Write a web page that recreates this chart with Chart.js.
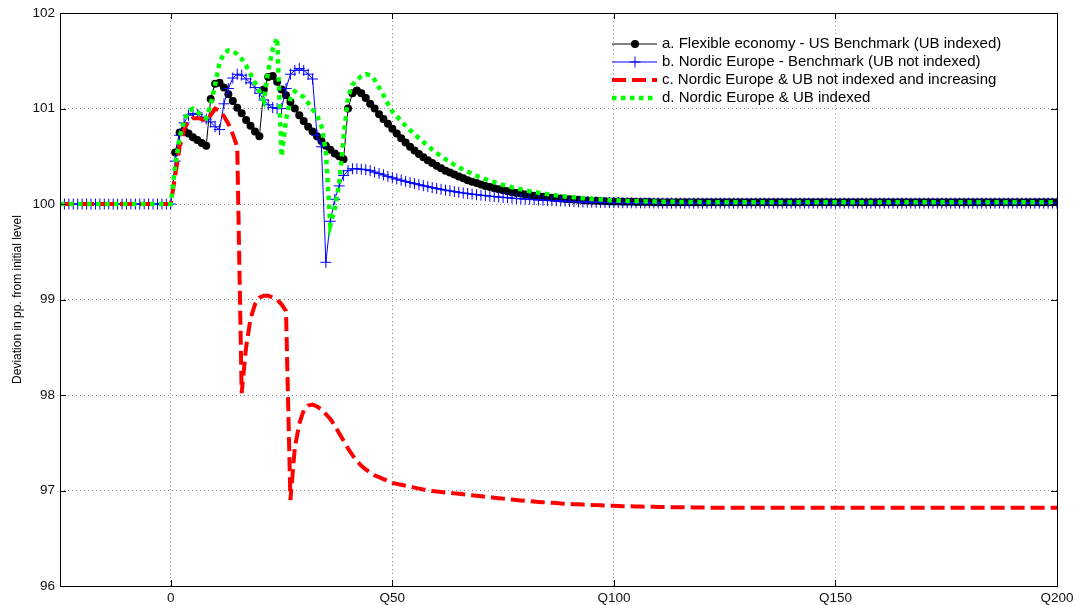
<!DOCTYPE html>
<html><head><meta charset="utf-8">
<script src="https://cdn.jsdelivr.net/npm/chart.js@4.4.0/dist/chart.umd.min.js"></script>
<style>html,body{margin:0;padding:0;background:#fff;}canvas{display:block;}</style>
</head><body>
<canvas id="c" width="1080" height="605"></canvas>
<script>
// quarters -25 .. 200
const quarters = [];
for (let q = -25; q <= 200; q++) quarters.push(q);

const xTickValues = [0, 50, 100, 150, 200];
const yTickValues = [96, 97, 98, 99, 100, 101, 102];

const seriesNames = [
  'a. Flexible economy - US Benchmark (UB indexed)',
  'b. Nordic Europe - Benchmark (UB not indexed)',
  'c. Nordic Europe & UB not indexed and increasing',
  'd. Nordic Europe & UB indexed'
];

const flexibleUS = [
  null,null,null,null,null,null,null,null,null,null,
  null,null,null,null,null,null,null,null,null,null,
  null,null,null,null,null,null,
  100.54,100.75,100.77,100.74,100.70,100.67,100.64,100.61,101.10,101.26,
  101.27,101.22,101.15,101.08,101.01,100.95,100.88,100.82,100.76,100.71,
  101.20,101.33,101.34,101.28,101.20,101.14,101.07,101.00,100.93,100.87,
  100.81,100.76,100.71,100.66,100.61,100.57,100.53,100.50,100.47,101.00,
  101.16,101.19,101.16,101.11,101.05,101.00,100.94,100.89,100.84,100.79,
  100.74,100.69,100.645,100.60,100.56,100.525,100.49,100.46,100.43,100.40,
  100.375,100.35,100.33,100.31,100.29,100.27,100.25,100.235,100.22,100.205,
  100.19,100.18,100.165,100.155,100.145,100.135,100.125,100.117,100.11,100.10,
  100.094,100.088,100.082,100.076,100.071,100.066,100.062,100.058,100.054,100.05,
  100.047,100.044,100.041,100.038,100.036,100.034,100.032,100.03,100.028,100.027,
  100.026,100.025,100.024,100.023,100.022,100.022,100.021,100.021,100.02,100.02,
  100.02,100.02,100.02,100.02,100.02,100.02,100.02,100.02,100.02,100.02,
  100.02,100.02,100.02,100.02,100.02,100.02,100.02,100.02,100.02,100.02,
  100.02,100.02,100.02,100.02,100.02,100.02,100.02,100.02,100.02,100.02,
  100.02,100.02,100.02,100.02,100.02,100.02,100.02,100.02,100.02,100.02,
  100.02,100.02,100.02,100.02,100.02,100.02,100.02,100.02,100.02,100.02,
  100.02,100.02,100.02,100.02,100.02,100.02,100.02,100.02,100.02,100.02,
  100.02,100.02,100.02,100.02,100.02,100.02,100.02,100.02,100.02,100.02,
  100.02,100.02,100.02,100.02,100.02,100.02,100.02,100.02,100.02,100.02,
  100.02,100.02,100.02,100.02,100.02,100.02,100.02,100.02,100.02,100.02
];

const nordicBenchmark = [
  100,100,100,100,100,100,100,100,100,100,
  100,100,100,100,100,100,100,100,100,100,
  100,100,100,100,100,100,
  100.45,100.72,100.85,100.93,100.95,100.94,100.91,100.89,100.86,100.81,
  100.78,101.05,101.21,101.32,101.36,101.35,101.31,101.27,101.22,101.16,
  101.09,101.04,101.01,101.00,101.00,101.21,101.36,101.40,101.42,101.40,
  101.36,101.31,100.72,100.60,99.39,99.82,100.05,100.19,100.30,100.35,
  100.37,100.37,100.365,100.36,100.35,100.335,100.32,100.305,100.29,100.275,
  100.262,100.25,100.238,100.226,100.214,100.203,100.192,100.182,100.172,100.163,
  100.154,100.146,100.138,100.13,100.123,100.116,100.11,100.104,100.098,100.093,
  100.088,100.083,100.078,100.074,100.07,100.066,100.062,100.058,100.055,100.052,
  100.049,100.046,100.043,100.04,100.038,100.036,100.034,100.032,100.03,100.028,
  100.026,100.024,100.022,100.021,100.02,100.019,100.018,100.017,100.016,100.015,
  100.015,100.014,100.014,100.013,100.013,100.012,100.012,100.012,100.011,100.011,
  100.01,100.01,100.01,100.01,100.01,100.01,100.01,100.01,100.01,100.01,
  100.01,100.01,100.01,100.01,100.01,100.01,100.01,100.01,100.01,100.01,
  100.01,100.01,100.01,100.01,100.01,100.01,100.01,100.01,100.01,100.01,
  100.01,100.01,100.01,100.01,100.01,100.01,100.01,100.01,100.01,100.01,
  100.01,100.01,100.01,100.01,100.01,100.01,100.01,100.01,100.01,100.01,
  100.01,100.01,100.01,100.01,100.01,100.01,100.01,100.01,100.01,100.01,
  100.01,100.01,100.01,100.01,100.01,100.01,100.01,100.01,100.01,100.01,
  100.01,100.01,100.01,100.01,100.01,100.01,100.01,100.01,100.01,100.01,
  100.01,100.01,100.01,100.01,100.01,100.01,100.01,100.01,100.01,100.01
];

const nordicNotIndexedIncreasing = [
  100,100,100,100,100,100,100,100,100,100,
  100,100,100,100,100,100,100,100,100,100,
  100,100,100,100,100,100,
  100.3,100.6,100.78,100.87,100.9,100.9,100.89,100.87,100.93,101.0,
  100.98,100.92,100.84,100.73,100.6,98.02,98.5,98.8,98.95,99.02,
  99.04,99.04,99.02,99.0,98.95,98.88,96.9,97.45,97.7,97.84,
  97.89,97.9,97.88,97.85,97.8,97.75,97.68,97.6,97.52,97.44,
  97.37,97.31,97.26,97.22,97.19,97.16,97.14,97.12,97.1,97.08,
  97.07,97.06,97.05,97.04,97.03,97.02,97.01,97.0,96.995,96.99,
  96.985,96.98,96.975,96.97,96.965,96.96,96.955,96.95,96.945,96.94,
  96.935,96.93,96.925,96.92,96.915,96.91,96.905,96.9,96.896,96.892,
  96.888,96.884,96.88,96.877,96.874,96.871,96.868,96.865,96.862,96.86,
  96.857,96.855,96.853,96.851,96.849,96.847,96.845,96.843,96.841,96.84,
  96.838,96.836,96.835,96.834,96.833,96.832,96.831,96.83,96.829,96.828,
  96.827,96.826,96.826,96.825,96.825,96.824,96.824,96.823,96.823,96.822,
  96.82,96.82,96.82,96.82,96.82,96.82,96.82,96.82,96.82,96.82,
  96.82,96.82,96.82,96.82,96.82,96.82,96.82,96.82,96.82,96.82,
  96.82,96.82,96.82,96.82,96.82,96.82,96.82,96.82,96.82,96.82,
  96.82,96.82,96.82,96.82,96.82,96.82,96.82,96.82,96.82,96.82,
  96.82,96.82,96.82,96.82,96.82,96.82,96.82,96.82,96.82,96.82,
  96.82,96.82,96.82,96.82,96.82,96.82,96.82,96.82,96.82,96.82,
  96.82,96.82,96.82,96.82,96.82,96.82,96.82,96.82,96.82,96.82,
  96.82,96.82,96.82,96.82,96.82,96.82,96.82,96.82,96.82,96.82
];

const nordicIndexed = [
  100,100,100,100,100,100,100,100,100,100,
  100,100,100,100,100,100,100,100,100,100,
  100,100,100,100,100,100,
  100.4,100.7,100.87,100.97,101.0,100.97,100.92,100.9,101.04,101.25,
  101.48,101.58,101.61,101.6,101.57,101.52,101.45,101.36,101.27,101.18,
  101.08,101.4,101.62,101.74,100.5,100.88,101.1,101.18,101.15,101.12,
  101.06,100.99,100.93,100.82,100.55,99.78,99.95,100.21,100.7,101.12,
  101.25,101.3,101.34,101.36,101.35,101.3,101.22,101.14,101.05,100.97,
  100.92,100.87,100.82,100.775,100.73,100.69,100.65,100.61,100.57,100.535,
  100.5,100.47,100.44,100.41,100.385,100.36,100.34,100.315,100.295,100.28,
  100.26,100.245,100.23,100.215,100.2,100.19,100.175,100.165,100.155,100.145,
  100.135,100.127,100.119,100.111,100.104,100.097,100.091,100.085,100.08,100.075,
  100.07,100.066,100.062,100.058,100.054,100.05,100.047,100.044,100.041,100.039,
  100.037,100.035,100.033,100.032,100.03,100.029,100.028,100.027,100.026,100.025,
  100.024,100.024,100.023,100.023,100.022,100.022,100.021,100.021,100.021,100.02,
  100.02,100.02,100.02,100.02,100.02,100.02,100.02,100.02,100.02,100.02,
  100.02,100.02,100.02,100.02,100.02,100.02,100.02,100.02,100.02,100.02,
  100.02,100.02,100.02,100.02,100.02,100.02,100.02,100.02,100.02,100.02,
  100.02,100.02,100.02,100.02,100.02,100.02,100.02,100.02,100.02,100.02,
  100.02,100.02,100.02,100.02,100.02,100.02,100.02,100.02,100.02,100.02,
  100.02,100.02,100.02,100.02,100.02,100.02,100.02,100.02,100.02,100.02,
  100.02,100.02,100.02,100.02,100.02,100.02,100.02,100.02,100.02,100.02,
  100.02,100.02,100.02,100.02,100.02,100.02,100.02,100.02,100.02,100.02
];

const FONT = "Arial, 'Liberation Sans', Helvetica, sans-serif";

function toPoints(values) {
  return quarters.map((q, i) => ({ x: q, y: values[i] === undefined ? null : values[i] }));
}

const datasets = [
  { label: seriesNames[0], data: toPoints(flexibleUS), borderColor: '#000000', backgroundColor: '#000000',
    borderWidth: 1, pointStyle: 'circle', pointRadius: 4, pointBorderWidth: 0, order: 4 },
  { label: seriesNames[1], data: toPoints(nordicBenchmark), borderColor: '#0000ff', backgroundColor: '#0000ff',
    borderWidth: 1, pointStyle: 'cross', pointRadius: 5.5, pointBorderWidth: 1, order: 3 },
  { label: seriesNames[2], data: toPoints(nordicNotIndexedIncreasing), borderColor: '#ff0000', backgroundColor: '#ff0000',
    borderWidth: 4, borderDash: [14, 6], pointRadius: 0, order: 2 },
  { label: seriesNames[3], data: toPoints(nordicIndexed), borderColor: '#00ff00', backgroundColor: '#00ff00',
    borderWidth: 4.5, borderDash: [4.5, 4.5], pointRadius: 0, order: 1 }
];

const framePlugin = {
  id: 'frame',
  afterDraw(chart) {
    const ctx = chart.ctx;
    const a = chart.chartArea;
    const xs = chart.scales.x, ys = chart.scales.y;
    ctx.save();
    ctx.strokeStyle = '#000';
    ctx.lineWidth = 1;
    ctx.setLineDash([]);
    // inward ticks
    ctx.beginPath();
    xTickValues.forEach(v => {
      const px = Math.round(xs.getPixelForValue(v)) + 0.5;
      ctx.moveTo(px, a.bottom); ctx.lineTo(px, a.bottom - 6);
      ctx.moveTo(px, a.top); ctx.lineTo(px, a.top + 6);
    });
    yTickValues.forEach(v => {
      const py = Math.round(ys.getPixelForValue(v)) + 0.5;
      ctx.moveTo(a.left, py); ctx.lineTo(a.left + 6, py);
      ctx.moveTo(a.right, py); ctx.lineTo(a.right - 6, py);
    });
    ctx.stroke();
    ctx.strokeRect(Math.round(a.left) + 0.5, Math.round(a.top) + 0.5,
                   Math.round(a.right - a.left), Math.round(a.bottom - a.top));

    // legend
    const x0 = 612, x1 = 657, tx = 662;
    const rows = [44, 62, 80, 98];
    chart.data.datasets.forEach((ds, i) => {
      const y = rows[i];
      ctx.save();
      ctx.strokeStyle = ds.borderColor;
      ctx.lineWidth = ds.borderWidth;
      ctx.setLineDash(ds.borderDash || []);
      ctx.beginPath();
      ctx.moveTo(x0, y); ctx.lineTo(x1, y);
      ctx.stroke();
      ctx.setLineDash([]);
      const mx = 635;
      if (ds.pointStyle === 'circle' && ds.pointRadius > 0) {
        ctx.fillStyle = ds.backgroundColor;
        ctx.beginPath(); ctx.arc(mx, y, ds.pointRadius, 0, Math.PI * 2); ctx.fill();
      } else if (ds.pointStyle === 'cross' && ds.pointRadius > 0) {
        ctx.lineWidth = 1;
        ctx.beginPath();
        ctx.moveTo(mx - ds.pointRadius, y); ctx.lineTo(mx + ds.pointRadius, y);
        ctx.moveTo(mx, y - ds.pointRadius); ctx.lineTo(mx, y + ds.pointRadius);
        ctx.stroke();
      }
      ctx.restore();
      ctx.fillStyle = '#000';
      ctx.font = '15px ' + FONT;
      ctx.textBaseline = 'middle';
      ctx.textAlign = 'left';
      ctx.fillText(ds.label, tx, y);
    });
    ctx.restore();
  }
};

new Chart(document.getElementById('c'), {
  type: 'line',
  data: { datasets },
  plugins: [framePlugin],
  options: {
    responsive: false,
    animation: false,
    devicePixelRatio: 1,
    layout: { padding: { top: 10, right: 23, bottom: 0, left: 0 } },
    plugins: { legend: { display: false }, tooltip: { enabled: false } },
    elements: { line: { tension: 0 } },
    scales: {
      x: {
        type: 'linear',
        min: -25, max: 200,
        afterBuildTicks: s => { s.ticks = xTickValues.map(v => ({ value: v })); },
        afterFit: s => { s.height = 19; },
        grid: { color: '#8a8a8a', lineWidth: 1, drawTicks: false },
        border: { display: false, dash: [1, 3] },
        ticks: {
          autoSkip: false, maxRotation: 0, padding: 4, color: '#111',
          font: { family: FONT, size: 13.5 },
          callback: v => (v === 0 ? '0' : 'Q' + v)
        }
      },
      y: {
        type: 'linear',
        min: 96, max: 102,
        afterBuildTicks: s => { s.ticks = yTickValues.map(v => ({ value: v })); },
        afterFit: s => { s.width = 60; },
        grid: { color: '#8a8a8a', lineWidth: 1, drawTicks: false },
        border: { display: false, dash: [1, 3] },
        ticks: { padding: 5, color: '#111', font: { family: FONT, size: 13.5 } },
        title: {
          display: true, text: 'Deviation in pp. from initial level', color: '#000',
          font: { family: FONT, size: 12 }, padding: { top: 10, bottom: 0 }
        }
      }
    }
  }
});
</script>
</body></html>
